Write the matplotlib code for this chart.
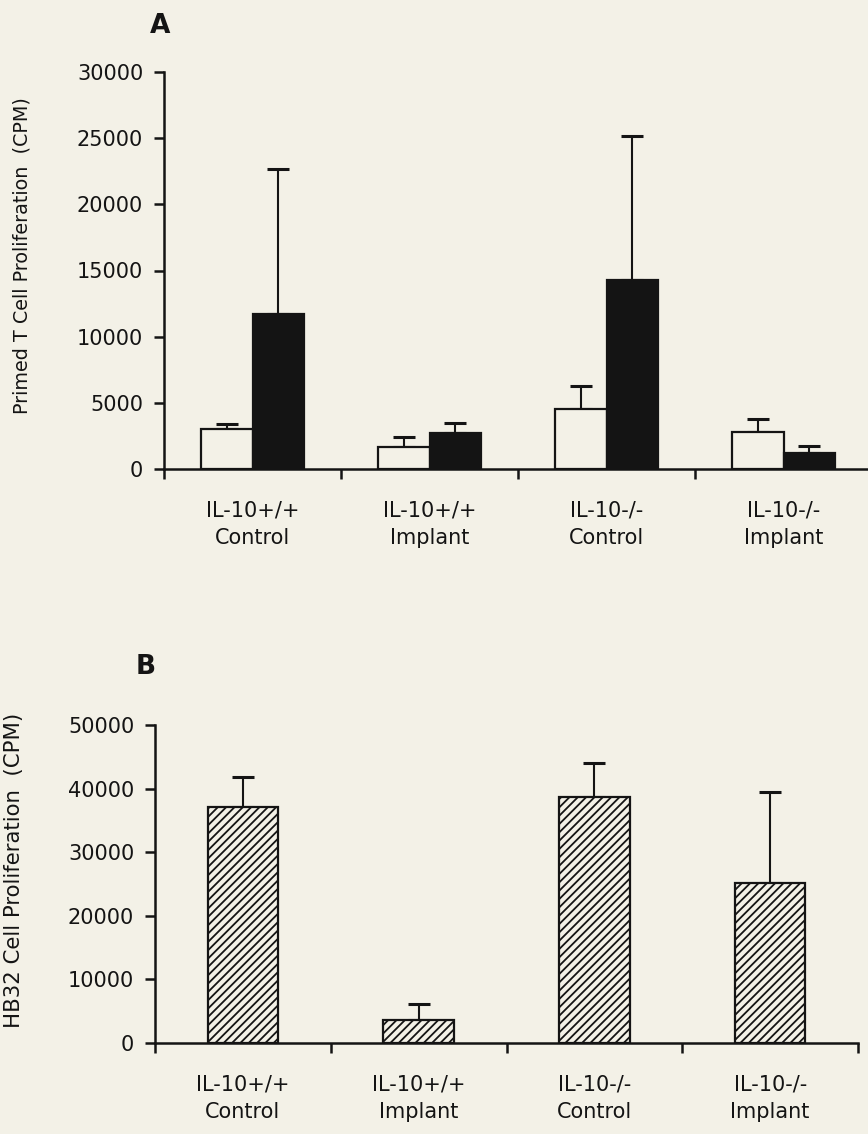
import matplotlib
matplotlib.use('Agg')
import matplotlib.pyplot as plt
import numpy as np

# Panel A data: primed T cell proliferation (CPM)
groups = ['IL-10+/+\nControl', 'IL-10+/+\nImplant', 'IL-10-/-\nControl', 'IL-10-/-\nImplant']
a_open = [3000, 1700, 4500, 2800]
a_open_err = [400, 750, 1800, 1000]
a_solid = [11700, 2750, 14250, 1200]
a_solid_err = [11000, 750, 10900, 550]

# Panel B data: HB32 cell proliferation (CPM)
b_vals = [37100, 3600, 38700, 25150]
b_err = [4700, 2500, 5300, 14350]

a_yticks = [0, 5000, 10000, 15000, 20000, 25000, 30000]
b_yticks = [0, 10000, 20000, 30000, 40000, 50000]

paper = '#f3f1e7'
ink = '#141414'
plt.rcParams['font.family'] = 'DejaVu Sans'
plt.rcParams['hatch.linewidth'] = 1.3
plt.rcParams['hatch.color'] = ink

W, H = 868, 1134
fig = plt.figure(figsize=(W / 100, H / 100), dpi=100, facecolor=paper)


def px_axes(x0, x1, ytop, ybot):
    return fig.add_axes([x0 / W, 1 - ybot / H, (x1 - x0) / W, (ybot - ytop) / H])


def style(ax, ymax, yticks):
    ax.set_facecolor('none')
    ax.set_xlim(0, 4)
    ax.set_ylim(0, ymax)
    for s in ['top', 'right']:
        ax.spines[s].set_visible(False)
    for s in ['left', 'bottom']:
        ax.spines[s].set_linewidth(1.8)
        ax.spines[s].set_color(ink)
    ax.set_yticks(yticks)
    ax.set_yticklabels([str(t) for t in yticks])
    ax.set_xticks([0, 1, 2, 3, 4])
    ax.set_xticklabels([])
    ax.set_xticks(np.arange(4) + 0.5, minor=True)
    ax.set_xticklabels(groups, minor=True, linespacing=1.45)
    ax.tick_params(axis='both', which='major', direction='out', length=7, width=1.8,
                   color=ink, labelsize=15, labelcolor=ink, pad=8)
    ax.tick_params(axis='x', which='minor', length=0, labelsize=15, labelcolor=ink, pad=23)


# ---- Panel A ----
axA = px_axes(164, 872, 72, 469)
x = np.arange(4) + 0.5
w = 0.29
eb = dict(ecolor=ink, elinewidth=1.5, capthick=2.2)
axA.bar(x - w / 2, a_open, w, color=paper, edgecolor=ink, linewidth=1.6, zorder=2)
axA.errorbar(x - w / 2, a_open, yerr=[np.zeros(4), a_open_err], fmt='none', capsize=8, zorder=1, **eb)
axA.bar(x + w / 2, a_solid, w, color=ink, edgecolor=ink, linewidth=1.6, zorder=2)
axA.errorbar(x + w / 2, a_solid, yerr=[np.zeros(4), a_solid_err], fmt='none', capsize=8, zorder=1, **eb)
style(axA, 30000, a_yticks)
axA.spines['bottom'].set_bounds(0, 4.2)

fig.text(22 / W, 1 - 256 / H, 'Primed T Cell Proliferation  (CPM)', rotation=90,
         ha='center', va='center', fontsize=13.8, color=ink)
fig.text(160 / W, 1 - 26 / H, 'A', ha='center', va='center', fontsize=19,
         fontweight='bold', color=ink)

# ---- Panel B ----
axB = px_axes(155, 858, 725, 1043)
wb = 0.4
axB.bar(x, b_vals, wb, color=paper, edgecolor=ink, linewidth=1.6, hatch='////', zorder=2)
axB.errorbar(x, b_vals, yerr=[np.zeros(4), b_err], fmt='none', capsize=8, zorder=1, **eb)
style(axB, 50000, b_yticks)

fig.text(14 / W, 1 - 870 / H, 'HB32 Cell Proliferation  (CPM)', rotation=90,
         ha='center', va='center', fontsize=15.3, color=ink)
fig.text(146 / W, 1 - 667 / H, 'B', ha='center', va='center', fontsize=19,
         fontweight='bold', color=ink)

fig.savefig('out.png', dpi=100, facecolor=paper)
